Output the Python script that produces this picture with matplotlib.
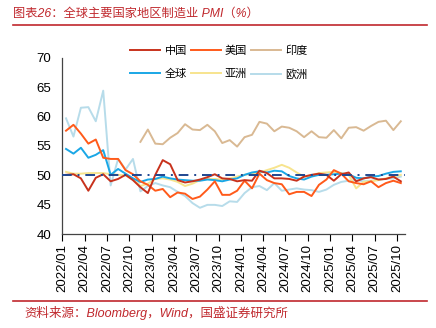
import matplotlib
matplotlib.use("Agg")
import matplotlib.pyplot as plt
import numpy as np

plt.rcParams['font.family'] = ['Liberation Sans', 'Noto Sans CJK SC', 'DejaVu Sans']

# -----------------------------
# Data (monthly, 2022/01 - 2025/10)
# -----------------------------
months = [f"{y}/{m:02d}" for y in range(2022, 2026) for m in range(1, 13)][:46]

china = [50.1, 50.2, 49.5, 47.4, 49.6, 50.2, 49.0, 49.4, 50.1, 49.2, 48.0, 47.0,
         50.1, 52.6, 51.9, 49.2, 48.8, 49.0, 49.3, 49.7, 50.2, 49.5, 49.4, 49.0,
         49.2, 49.1, 50.8, 50.4, 49.5, 49.5, 49.4, 49.1, 49.8, 50.1, 50.3, 50.1,
         49.1, 50.2, 50.5, 49.0, 49.5, 49.7, 49.3, 49.4, 49.8, 49.0]

usa = [57.6, 58.6, 57.1, 55.4, 56.1, 53.0, 52.8, 52.8, 50.9, 50.2, 49.0, 48.4,
       47.4, 47.7, 46.3, 47.1, 46.9, 46.0, 46.4, 47.6, 49.0, 46.7, 46.7, 47.4,
       49.1, 47.8, 50.3, 49.2, 48.7, 48.5, 46.8, 47.2, 47.2, 46.5, 48.4, 49.3,
       50.9, 50.3, 49.0, 48.7, 48.5, 49.0, 48.0, 48.7, 49.1, 48.7]

india = [np.nan] * 10 + [55.7, 57.8,
         55.4, 55.3, 56.4, 57.2, 58.7, 57.8, 57.7, 58.6, 57.5, 55.5, 56.0, 54.9,
         56.5, 56.9, 59.1, 58.8, 57.5, 58.3, 58.1, 57.5, 56.5, 57.5, 56.5, 56.4,
         57.7, 56.3, 58.1, 58.2, 57.6, 58.4, 59.1, 59.3, 57.7, 59.2]

world = [54.5, 53.7, 54.7, 53.0, 53.5, 54.3, 50.1, 51.1, 50.3, 49.5, 48.9, 49.3,
         49.4, 49.8, 49.5, 49.3, 49.2, 49.1, 49.1, 49.3, 49.2, 49.0, 49.3, 49.5,
         50.1, 50.5, 50.7, 50.5, 50.8, 50.7, 49.9, 49.5, 49.3, 49.8, 50.1, 50.1,
         50.2, 50.3, 50.2, 49.6, 49.5, 49.8, 49.9, 50.3, 50.6, 50.7]

asia = [50.6, 50.3, 50.3, 50.4, 50.4, 50.4, 50.2, 50.1, 50.0, 49.3, 48.2, 48.6,
        49.4, 49.5, 49.3, 48.9, 48.2, 48.6, 49.2, 49.4, 49.4, 49.3, 49.5, 49.8,
        50.1, 50.3, 50.5, 50.9, 51.3, 51.8, 51.3, 50.5, 49.8, 50.0, 50.4, 50.5,
        50.6, 50.4, 50.1, 47.8, 48.9, 49.0, 49.2, 49.5, 49.8, 50.1]

europe = [59.7, 56.6, 61.5, 61.6, 59.2, 64.4, 48.3, 52.8, 51.0, 52.8, 47.3, 48.2,
          48.7, 48.3, 48.0, 47.2, 46.5, 45.3, 44.5, 45.0, 45.0, 44.8, 45.6, 45.5,
          47.0, 48.0, 48.2, 47.5, 48.7, 47.4, 47.6, 47.8, 47.6, 47.5, 47.2, 47.6,
          48.4, 48.9, 49.1, 49.2, 49.0, 49.1, 49.3, 49.4, 49.5, 49.8]

# -----------------------------
# Plot
# -----------------------------
fig = plt.figure(figsize=(4.36, 3.28), dpi=100)
ax = fig.add_axes([0.1429, 0.2857, 0.7849, 0.5384])

x = np.arange(len(months)) + 0.5
series = [
    ("中国", china, "#C8321C"),
    ("全球", world, "#1AA7E6"),
    ("美国", usa, "#FF5A1A"),
    ("亚洲", asia, "#F7E48E"),
    ("印度", india, "#D9B993"),
    ("欧洲", europe, "#B7DCEA"),
]
draw_order = [5, 3, 4, 1, 2, 0]
lines = {}
for k in draw_order:
    name, vals, col = series[k]
    lines[k], = ax.plot(x, vals, color=col, lw=1.4, label=name)

# 50 reference line on top
ax.axhline(50, color="#1F4690", lw=1.4, ls=(0, (5, 3, 1, 3)), zorder=5)

ax.set_xlim(0, len(months))
ax.set_ylim(40, 70)
ax.set_yticks(range(40, 71, 5))
ax.set_xticks(range(0, 46, 3))
ax.set_xticklabels([months[i] for i in range(0, 46, 3)], rotation=90)
ax.tick_params(axis="y", length=0, labelsize=9.5, pad=8)
ax.tick_params(axis="x", length=5, width=0.8, labelsize=9.5, pad=2)
for s in ["top", "right"]:
    ax.spines[s].set_visible(False)
for s in ["left", "bottom"]:
    ax.spines[s].set_color("#444444")
    ax.spines[s].set_linewidth(0.9)

handles = [lines[k] for k in range(6)]
ax.legend(handles, [s[0] for s in series], ncol=3, frameon=False,
          loc="upper left", bbox_to_anchor=(0.17, 1.125),
          fontsize=8, handlelength=2.7, handletextpad=0.4,
          columnspacing=0.3, labelspacing=1.15)

# title, rules and source
red = "#C0282D"
fig.text(0.03, 0.958, "图表26：全球主要国家地区制造业 PMI（%）", color=red,
         fontsize=8.8, style="italic", va="center", ha="left")
fig.add_artist(plt.Line2D([0.03, 0.98], [0.924, 0.924], color=red, lw=1.2,
                          transform=fig.transFigure))
fig.add_artist(plt.Line2D([0.03, 0.98], [0.082, 0.082], color=red, lw=1.2,
                          transform=fig.transFigure))
fig.text(0.055, 0.047, "资料来源：Bloomberg，Wind，国盛证券研究所", color=red,
         fontsize=9, style="italic", va="center", ha="left")

fig.savefig("out.png", dpi=100)
